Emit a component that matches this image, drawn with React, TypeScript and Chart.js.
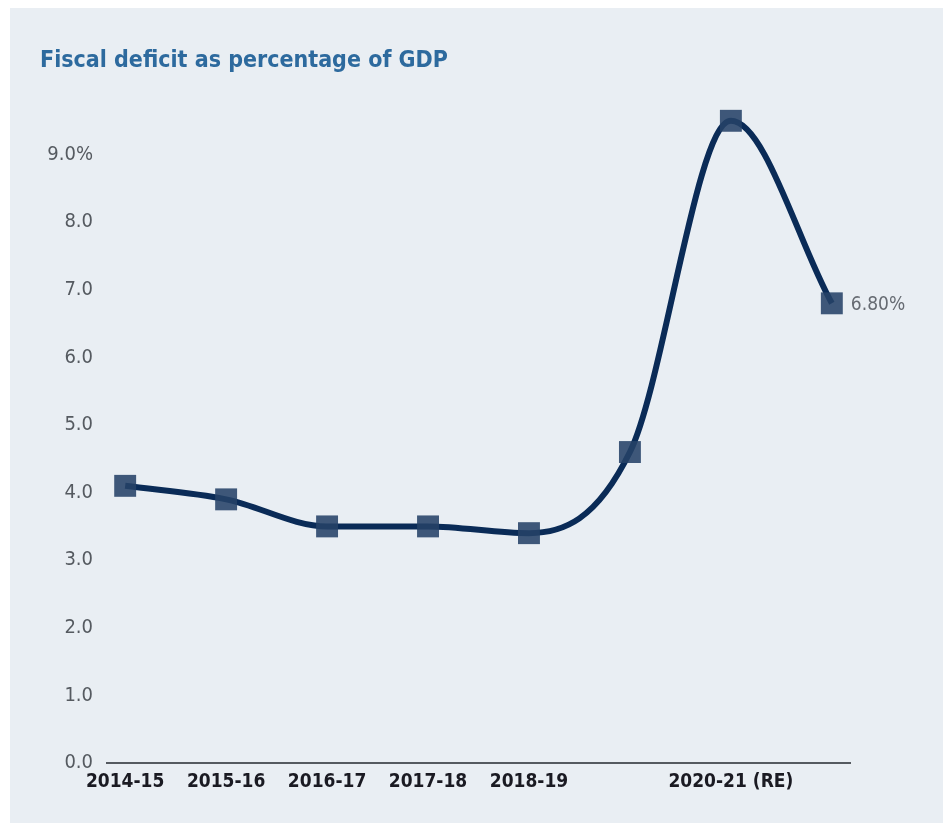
import React, { useEffect, useRef } from "react";
import { Chart, registerables } from "chart.js";

Chart.register(...registerables);

const categories = ["2014-15", "2015-16", "2016-17", "2017-18", "2018-19", "", "2020-21 (RE)", ""];
const deficit = [4.1, 3.9, 3.5, 3.5, 3.4, 4.6, 9.5, 6.8];
const yTicks = [0, 1, 2, 3, 4, 5, 6, 7, 8, 9];
const lastLabel = "6.80%";
const title = "Fiscal deficit as percentage of GDP";

const FONT = "'Liberation Sans Narrow', 'DejaVu Sans Condensed', 'Liberation Sans', sans-serif";

export default function App() {
  const ref = useRef<HTMLCanvasElement>(null);

  useEffect(() => {
    document.body.style.margin = "0";
    const canvas = ref.current!;
    const labelPlugin = {
      id: "lastLabel",
      afterDatasetsDraw(chart: any) {
        const meta = chart.getDatasetMeta(0);
        const pt = meta.data[meta.data.length - 1];
        const ctx = chart.ctx;
        ctx.save();
        ctx.font = `19px ${FONT}`;
        ctx.fillStyle = "#666b72";
        ctx.textAlign = "left";
        ctx.textBaseline = "middle";
        ctx.fillText(lastLabel, pt.x + 19, pt.y + 2);
        ctx.restore();
      },
    };
    const chart = new Chart(canvas, {
      type: "line",
      data: {
        datasets: [
          {
            data: deficit.map((v, i) => ({ x: i, y: v })),
            borderColor: "#0a2b57",
            borderWidth: 6,
            cubicInterpolationMode: "monotone",
            pointStyle: "rect",
            pointRadius: 15.5,
            pointHoverRadius: 15.5,
            pointBackgroundColor: "rgba(38,66,104,0.88)",
            pointBorderWidth: 0,
            clip: false as any,
          },
        ],
      },
      options: {
        animation: false,
        responsive: false,
        maintainAspectRatio: false,
        layout: { padding: { left: 10, right: 93, top: 87, bottom: 0 } },
        plugins: { legend: { display: false }, tooltip: { enabled: false } },
        scales: {
          x: {
            type: "linear",
            min: -0.18,
            max: 7.18,
            grid: { display: false, drawTicks: false },
            border: { display: true, color: "#555a60", width: 2 },
            afterBuildTicks: (axis: any) => {
              axis.ticks = categories.map((_, i) => ({ value: i }));
            },
            afterFit: (scale: any) => {
              scale.height = 823 - 763;
            },
            ticks: {
              autoSkip: false,
              maxRotation: 0,
              padding: 8,
              color: "#1a1a22",
              font: { family: FONT, size: 19, weight: "bold" },
              callback: (v: any) => categories[Math.round(v)] ?? "",
            },
          },
          y: {
            min: 0,
            max: 10,
            grid: { display: false, drawTicks: false },
            border: { display: false },
            afterBuildTicks: (axis: any) => {
              axis.ticks = yTicks.map((v) => ({ value: v }));
            },
            afterFit: (scale: any) => {
              scale.width = 107 - 10;
            },
            ticks: {
              padding: 14,
              color: "#555a60",
              font: { family: FONT, size: 20 },
              callback: (v: any) => (v === 9 ? "9.0%" : Number(v).toFixed(1)),
            },
          },
        },
      },
      plugins: [labelPlugin],
    } as any);
    return () => chart.destroy();
  }, []);

  return (
    <div style={{ position: "fixed", left: 0, top: 0, width: 943, height: 823, background: "#ffffff" }}>
      <div style={{ position: "absolute", left: 10, top: 8, right: 0, bottom: 0, background: "#e9eef3" }} />
      <canvas ref={ref} width={943} height={823} style={{ position: "absolute", left: 0, top: 0, width: 943, height: 823 }} />
      <div
        style={{
          position: "absolute",
          left: 40,
          top: 46,
          fontFamily: FONT,
          fontWeight: "bold",
          fontSize: 23,
          color: "#2d6a9e",
          whiteSpace: "nowrap",
        }}
      >
        {title}
      </div>
    </div>
  );
}
